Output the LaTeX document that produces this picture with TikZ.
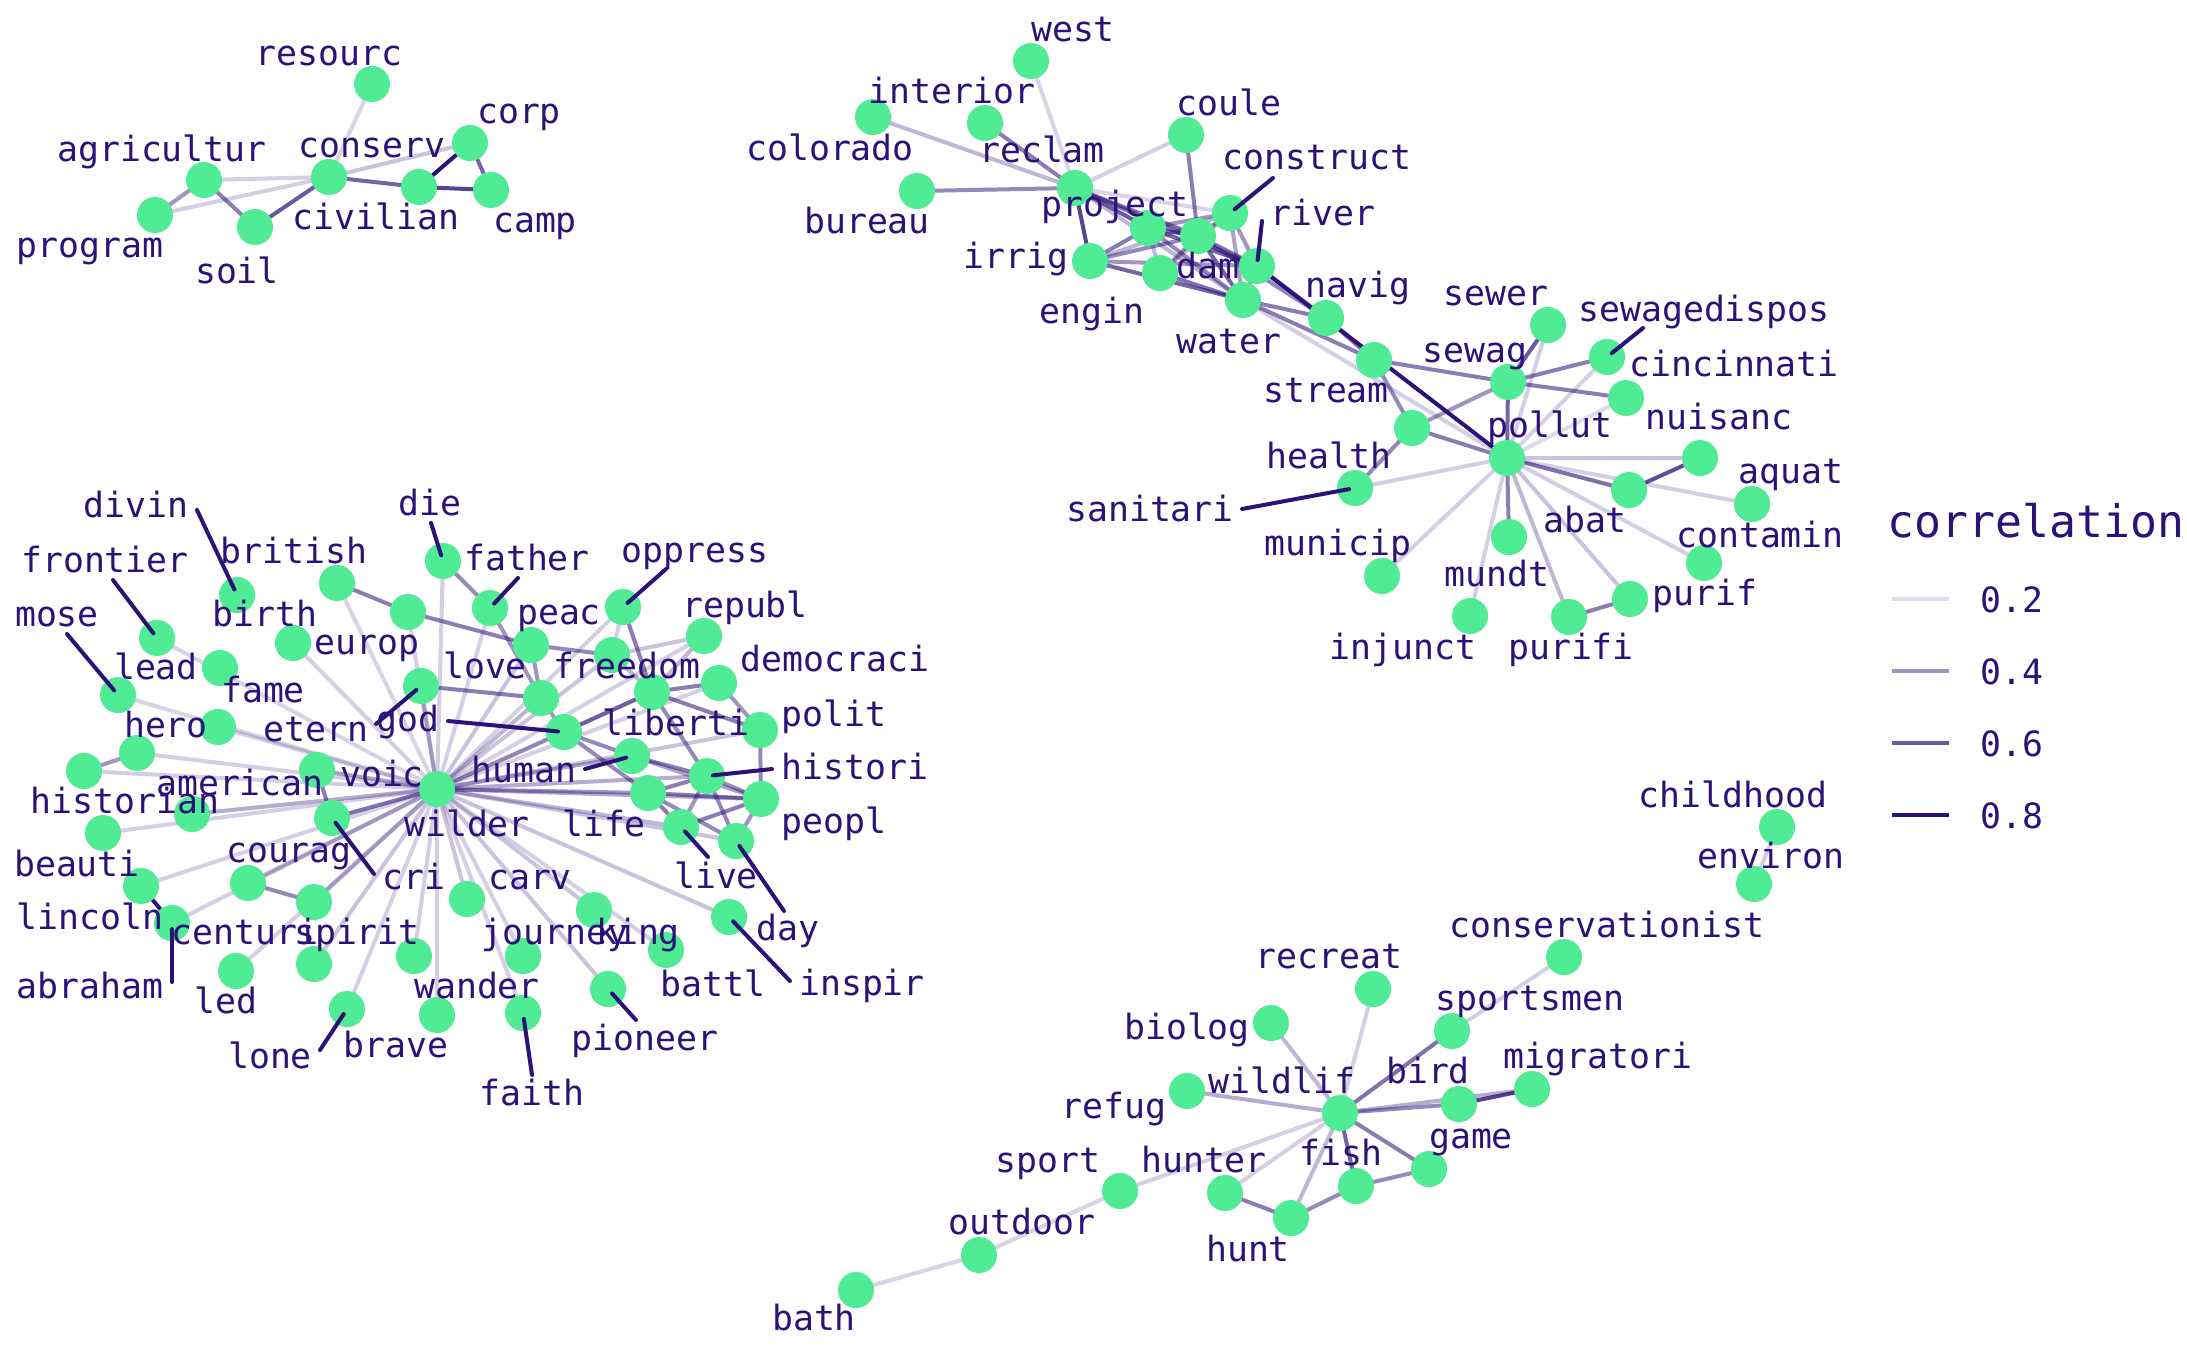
\documentclass[tikz,border=0pt]{standalone}
\usepackage{fontspec}
\newfontfamily\monof{DejaVu Sans Mono}
\definecolor{ink}{HTML}{2C1278}
\definecolor{nodegreen}{HTML}{4FEB95}
\pgfdeclarelayer{bg}
\pgfdeclarelayer{edges}
\pgfdeclarelayer{leaders}
\pgfdeclarelayer{labels}
\pgfsetlayers{bg,edges,main,leaders,labels}
\tikzset{
  dot/.style={circle, fill=nodegreen, minimum size=18pt, inner sep=0pt, outer sep=0pt},
  lbl/.style={text=ink, font=\monof\fontsize{17.4}{20}\selectfont, anchor=base, inner sep=0pt},
  ed/.style={draw=ink, line width=2pt, draw opacity=#1},
  leader/.style={draw=ink, line width=2pt, line cap=round},
}
\newcommand\wn[3]{\node[dot] (#1) at (#2) {};\begin{pgfonlayer}{labels}\node[lbl] (#1-l) at (#3) {#1};\end{pgfonlayer}}
\newcommand\edg[3]{\draw[ed=#3] (#1.center) -- (#2.center);}
\newcommand\ldr[2]{\coordinate (#1-c) at (#2);\draw[leader, shorten >=3pt] (#1-c) -- (#1.center);}
\begin{document}
\begin{tikzpicture}[x=0.5pt,y=-0.5pt]
\begin{pgfonlayer}{bg}
\fill[white] (0,0) rectangle (2187,1351);
\end{pgfonlayer}
\useasboundingbox (0,0) rectangle (2187,1351);
% ---- top-left cluster
\wn{resourc}{372,84}{329,65}
\wn{corp}{470,143}{519,123}
\wn{agricultur}{204,180}{162,161}
\wn{conserv}{329,177}{372,157}
\wn{civilian}{419,187}{376,229}
\wn{camp}{491,190}{535,232}
\wn{program}{155,215}{90,257}
\wn{soil}{255,227}{237,283}
% ---- top-middle cluster
\wn{west}{1031,61}{1073,41}
\wn{interior}{985,123}{952,103}
\wn{colorado}{873,117}{830,160}
\wn{reclam}{1075,188}{1042,162}
\wn{coule}{1186,135}{1229,115}
\wn{bureau}{917,191}{867,233}
\wn{project}{1148,228}{1115,216}
\wn{construct}{1230,213}{1317,169}
\wn{river}{1257,266}{1323,225}
\wn{dam}{1198,236}{1208,278}
\wn{irrig}{1090,261}{1016,268}
\wn{engin}{1160,273}{1092,323}
\wn{water}{1243,300}{1229,353}
\wn{navig}{1326,318}{1358,297}
\wn{stream}{1374,360}{1326,402}
% ---- right cluster
\wn{sewer}{1548,325}{1496,305}
\wn{sewagedispos}{1607,357}{1704,321}
\wn{sewag}{1508,382}{1475,362}
\wn{cincinnati}{1626,398}{1734,376}
\wn{pollut}{1507,458}{1550,437}
\wn{health}{1412,428}{1329,468}
\wn{nuisanc}{1700,458}{1719,429}
\wn{sanitari}{1355,488}{1150,521}
\wn{abat}{1629,490}{1585,532}
\wn{aquat}{1752,504}{1791,483}
\wn{municip}{1382,576}{1338,555}
\wn{mundt}{1509,537}{1497,586}
\wn{contamin}{1704,563}{1760,547}
\wn{purif}{1630,599}{1705,605}
\wn{purifi}{1569,617}{1571,659}
\wn{injunct}{1470,616}{1403,659}
% ---- left cluster
\wn{divin}{237,595}{136,517}
\wn{british}{337,583}{294,563}
\wn{die}{443,561}{430,515}
\wn{frontier}{157,638}{105,572}
\wn{birth}{293,643}{265,626}
\wn{europ}{408,612}{367,654}
\wn{father}{490,608}{527,570}
\wn{oppress}{623,607}{695,562}
\wn{republ}{704,636}{745,617}
\wn{peac}{531,645}{559,624}
\wn{freedom}{612,655}{627,678}
\wn{lead}{220,668}{156,679}
\wn{mose}{118,695}{57,626}
\wn{etern}{421,686}{316,741}
\wn{love}{541,698}{485,678}
\wn{liberti}{652,692}{676,735}
\wn{democraci}{719,683}{835,671}
\wn{fame}{218,727}{263,702}
\wn{god}{564,732}{408,731}
\wn{polit}{760,730}{834,726}
\wn{hero}{137,753}{166,737}
\wn{human}{632,756}{524,782}
\wn{historian}{84,771}{125,813}
\wn{voic}{317,770}{382,786}
\wn{histori}{707,776}{855,779}
\wn{wilder}{437,789}{467,836}
\wn{life}{648,793}{604,836}
\wn{peopl}{761,799}{834,833}
\wn{american}{192,814}{240,795}
\wn{cri}{332,818}{414,889}
\wn{beauti}{103,833}{77,876}
\wn{live}{681,827}{716,888}
\wn{day}{736,841}{788,940}
\wn{lincoln}{141,886}{90,929}
\wn{courag}{248,883}{289,862}
\wn{carv}{467,899}{530,889}
\wn{centuri}{314,902}{245,944}
\wn{spirit}{314,964}{357,944}
\wn{abraham}{172,923}{90,998}
\wn{led}{236,971}{226,1013}
\wn{lone}{347,1009}{270,1068}
\wn{wander}{414,956}{477,998}
\wn{brave}{437,1015}{396,1057}
\wn{journey}{523,956}{555,944}
\wn{faith}{523,1013}{532,1105}
\wn{king}{594,910}{638,944}
\wn{battl}{666,950}{713,996}
\wn{pioneer}{608,989}{645,1050}
\wn{inspir}{729,917}{862,995}
% ---- bottom cluster
\wn{bath}{856,1290}{814,1330}
\wn{outdoor}{979,1255}{1022,1234}
\wn{sport}{1120,1191}{1048,1172}
\wn{hunter}{1225,1193}{1204,1172}
\wn{hunt}{1291,1218}{1248,1261}
\wn{fish}{1356,1186}{1341,1165}
\wn{wildlif}{1340,1113}{1282,1093}
\wn{refug}{1187,1091}{1114,1118}
\wn{biolog}{1271,1023}{1187,1039}
\wn{recreat}{1373,989}{1329,968}
\wn{childhood}{1777,827}{1733,807}
\wn{environ}{1754,884}{1771,868}
\wn{conservationist}{1564,957}{1607,937}
\wn{sportsmen}{1452,1031}{1530,1010}
\wn{migratori}{1532,1089}{1598,1068}
\wn{bird}{1459,1104}{1428,1083}
\wn{game}{1429,1169}{1471,1148}
% ---- edges
\begin{pgfonlayer}{edges}
\edg{resourc}{conserv}{.18}\edg{agricultur}{conserv}{.2}\edg{program}{agricultur}{.45}
\edg{program}{conserv}{.2}\edg{agricultur}{soil}{.55}\edg{soil}{conserv}{.7}
\edg{conserv}{civilian}{.65}\edg{conserv}{corp}{.25}\edg{civilian}{corp}{1}
\edg{civilian}{camp}{.8}\edg{corp}{camp}{.65}
%
\edg{reclam}{west}{.18}\edg{reclam}{interior}{.55}\edg{reclam}{colorado}{.3}
\edg{reclam}{coule}{.2}\edg{reclam}{bureau}{.5}\edg{reclam}{irrig}{.8}
\edg{reclam}{project}{.7}\edg{reclam}{dam}{.6}\edg{reclam}{construct}{.18}
\edg{reclam}{river}{.6}\edg{reclam}{water}{.3}\edg{coule}{dam}{.55}
\edg{irrig}{project}{.55}\edg{irrig}{dam}{.5}\edg{irrig}{water}{.65}
\edg{irrig}{river}{.45}\edg{irrig}{construct}{.3}
\edg{project}{dam}{.65}\edg{project}{construct}{.45}\edg{project}{river}{.65}
\edg{project}{water}{.5}\edg{project}{engin}{.3}
\edg{engin}{dam}{.45}\edg{engin}{water}{.6}\edg{engin}{construct}{.3}
\edg{dam}{construct}{.5}\edg{dam}{river}{.6}\edg{dam}{water}{.65}\edg{dam}{navig}{.5}
\edg{construct}{river}{.45}\edg{construct}{water}{.4}
\edg{river}{water}{.5}\edg{river}{pollut}{1}\edg{river}{navig}{.6}
\edg{water}{navig}{.55}\edg{water}{stream}{.55}\edg{water}{pollut}{.2}
\edg{navig}{stream}{.6}\edg{stream}{sewag}{.55}\edg{stream}{health}{.5}
\edg{health}{pollut}{.55}\edg{health}{sewag}{.45}\edg{health}{sanitari}{.5}
\edg{sanitari}{pollut}{.2}
\edg{sewag}{sewer}{.7}\edg{sewag}{sewagedispos}{.55}\edg{sewag}{cincinnati}{.55}
\edg{sewag}{pollut}{.65}\edg{sewer}{pollut}{.2}\edg{sewagedispos}{pollut}{.2}
\edg{cincinnati}{pollut}{.15}
\edg{pollut}{nuisanc}{.25}\edg{pollut}{abat}{.6}\edg{abat}{nuisanc}{.75}
\edg{pollut}{aquat}{.2}\edg{pollut}{contamin}{.2}\edg{pollut}{purif}{.25}
\edg{pollut}{purifi}{.3}\edg{pollut}{mundt}{.55}\edg{pollut}{injunct}{.2}
\edg{pollut}{municip}{.2}\edg{purifi}{purif}{.55}
%
\edg{british}{europ}{.55}\edg{europ}{peac}{.55}\edg{peac}{freedom}{.5}
\edg{die}{father}{.5}\edg{father}{love}{.45}\edg{peac}{love}{.45}
\edg{oppress}{liberti}{.55}\edg{republ}{liberti}{.3}\edg{democraci}{liberti}{.55}
\edg{liberti}{polit}{.55}\edg{god}{liberti}{.55}\edg{love}{god}{.45}
\edg{etern}{love}{.55}\edg{god}{human}{.5}\edg{god}{life}{.5}
\edg{human}{histori}{.55}\edg{human}{peopl}{.4}\edg{liberti}{histori}{.5}
\edg{life}{histori}{.55}\edg{life}{peopl}{.55}\edg{life}{live}{.55}
\edg{life}{day}{.5}\edg{histori}{peopl}{.5}\edg{histori}{live}{.45}
\edg{histori}{day}{.5}\edg{polit}{peopl}{.5}\edg{peopl}{live}{.55}
\edg{peopl}{day}{.45}\edg{democraci}{polit}{.45}\edg{voic}{cri}{.55}
\edg{hero}{historian}{.45}\edg{courag}{centuri}{.5}\edg{abraham}{lincoln}{1}
\edg{freedom}{republ}{.25}\edg{freedom}{liberti}{.3}\edg{oppress}{freedom}{.2}
\foreach \n/\o in {british/.18, die/.2, frontier/.18, birth/.2, europ/.2, father/.2,
  oppress/.2, republ/.2, peac/.25, freedom/.25, mose/.18, etern/.3, love/.3,
  liberti/.3, democraci/.2, fame/.2, god/.3, polit/.25, hero/.2, human/.35,
  historian/.2, voic/.4, histori/.35, life/.45, peopl/.35, american/.35, cri/.6,
  beauti/.2, live/.3, day/.25, lincoln/.2, abraham/.2, courag/.3, carv/.25,
  spirit/.25, centuri/.3, led/.2, lone/.2, wander/.2, brave/.2, journey/.2,
  faith/.2, king/.25, battl/.2, pioneer/.25, inspir/.25}
  {\draw[ed=\o] (wilder.center) -- (\n.center);}
%
\edg{bath}{outdoor}{.18}\edg{outdoor}{sport}{.18}\edg{sport}{wildlif}{.2}
\edg{hunter}{wildlif}{.2}\edg{hunter}{hunt}{.55}\edg{hunt}{fish}{.5}
\edg{hunt}{wildlif}{.3}\edg{fish}{wildlif}{.65}\edg{fish}{game}{.5}
\edg{wildlif}{game}{.55}\edg{wildlif}{bird}{.5}\edg{wildlif}{migratori}{.35}
\edg{bird}{migratori}{.8}\edg{wildlif}{sportsmen}{.6}
\edg{sportsmen}{conservationist}{.2}\edg{environ}{childhood}{.2}
\edg{biolog}{wildlif}{.3}\edg{recreat}{wildlif}{.2}\edg{refug}{wildlif}{.35}
\end{pgfonlayer}
% ---- label leaders
\begin{pgfonlayer}{leaders}
\ldr{construct}{1273,178}
\ldr{river}{1262,221}
\ldr{sewagedispos}{1643,328}
\ldr{sanitari}{1242,509}
\ldr{divin}{197,510}
\ldr{frontier}{113,580}
\ldr{mose}{67,634}
\ldr{die}{431,523}
\ldr{father}{518,578}
\ldr{oppress}{666,569}
\ldr{etern}{376,724}
\ldr{god}{448,721}
\ldr{human}{585,769}
\ldr{histori}{772,769}
\ldr{cri}{374,874}
\ldr{live}{708,857}
\ldr{day}{784,911}
\ldr{inspir}{790,981}
\ldr{pioneer}{636,1020}
\ldr{faith}{532,1075}
\ldr{abraham}{172,982}
\ldr{lone}{320,1050}
\end{pgfonlayer}
% ---- legend
\node[lbl, font=\monof\fontsize{22.4}{26}\selectfont, anchor=base west] (legtitle) at (1887,537) {correlation};
\foreach \k/\y/\o in {2/599/.15, 4/671/.45, 6/743/.7, 8/815/1}{
  \coordinate (lg\k a) at (1892,\y);
  \coordinate (lg\k b) at (1949,\y);
  \draw[ed=\o] (lg\k a) -- (lg\k b);
  \node[lbl, anchor=base west] (lg\k) at (1980,\y+13) {0.\k};
}
\end{tikzpicture}
\end{document}
